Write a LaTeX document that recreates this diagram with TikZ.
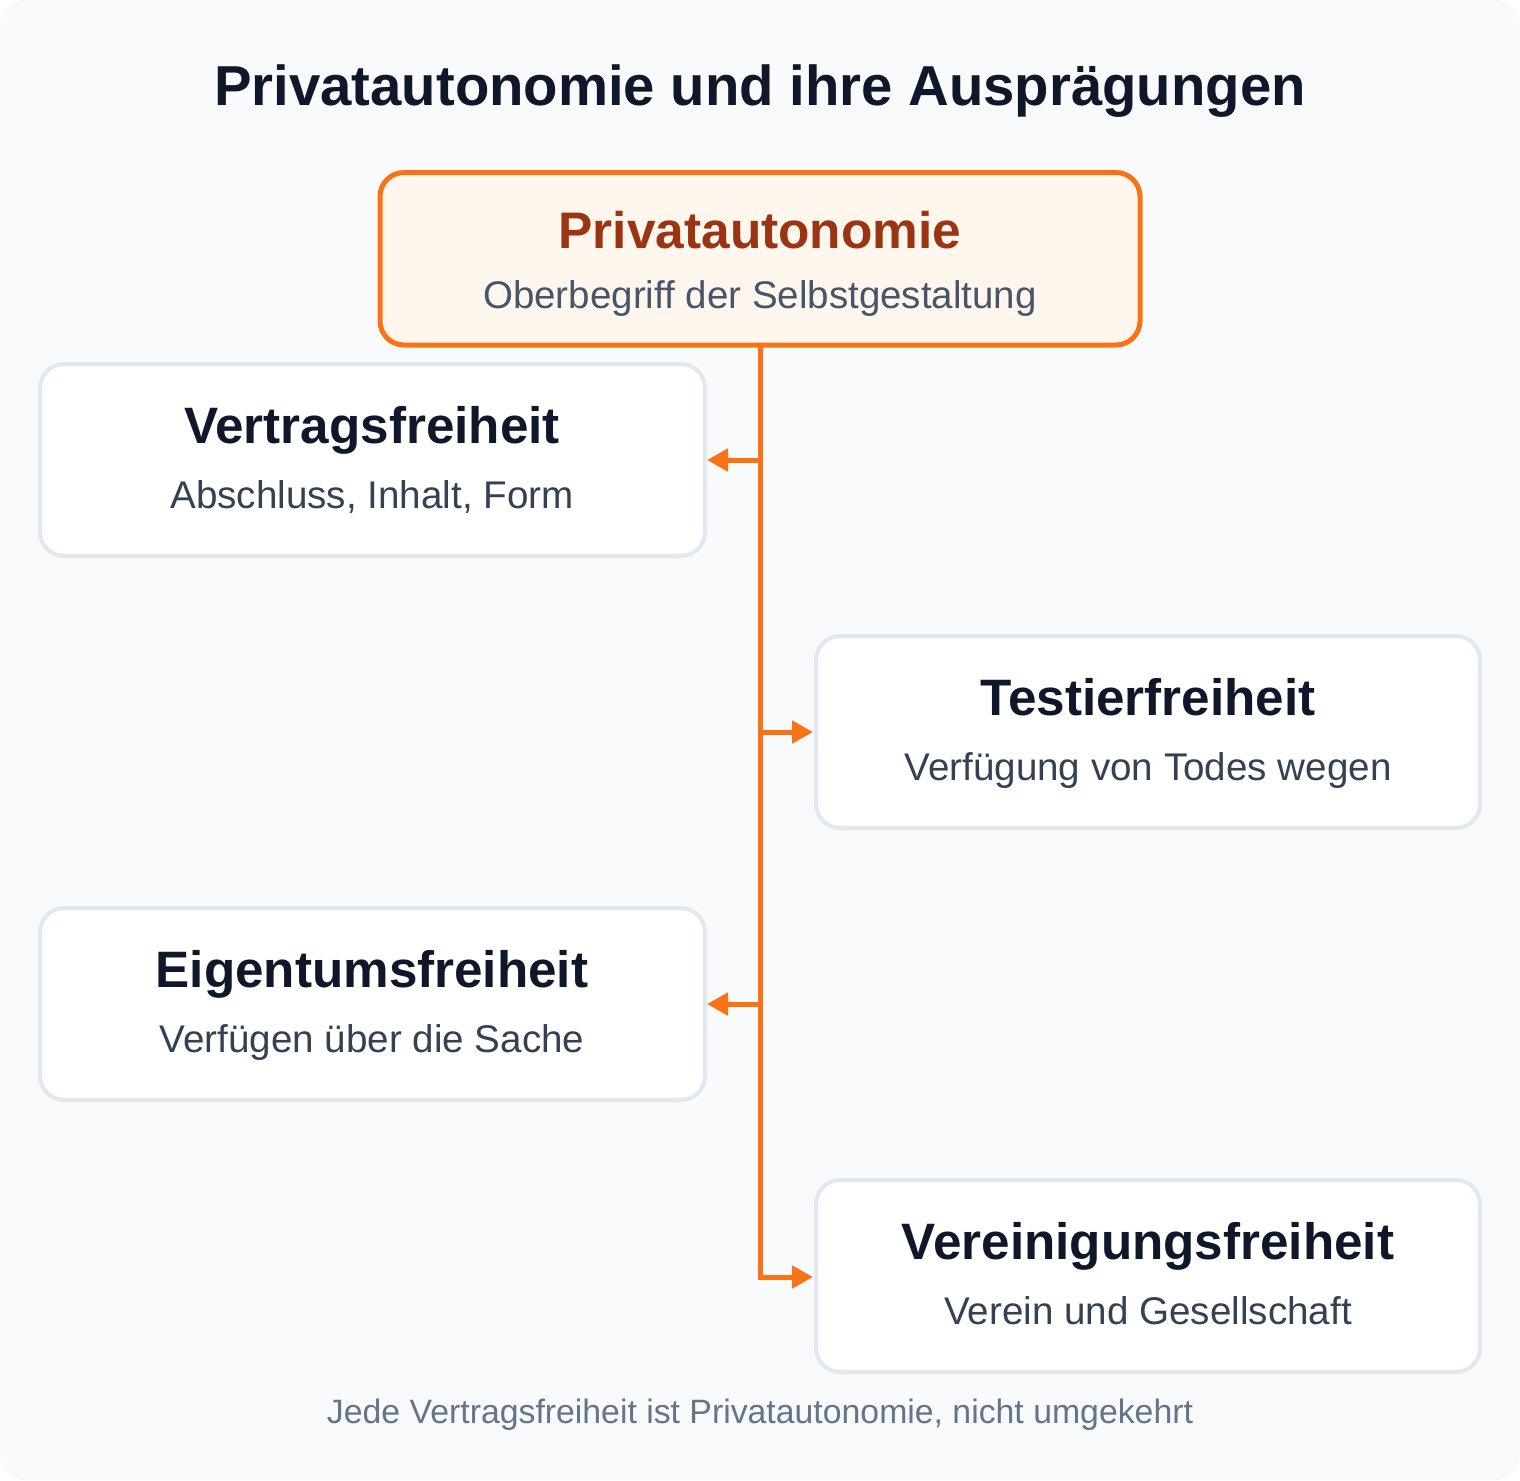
\documentclass[tikz,border=0pt]{standalone}
\usepackage{fontspec}
\setmainfont{Liberation Sans}
\usetikzlibrary{arrows.meta}
\definecolor{bgc}{HTML}{F8FAFC}
\definecolor{titlec}{HTML}{0F172A}
\definecolor{orangec}{HTML}{F97316}
\definecolor{topfill}{HTML}{FFF7ED}
\definecolor{toptext}{HTML}{9A3412}
\definecolor{subc}{HTML}{475569}
\definecolor{boxline}{HTML}{E2E8F0}
\definecolor{boxsub}{HTML}{334155}
\definecolor{footc}{HTML}{64748B}
\tikzset{
  cardbox/.style={draw=boxline, line width=2pt, fill=white, rounded corners=12pt},
  topbox/.style={draw=orangec, line width=2.5pt, fill=topfill, rounded corners=12pt},
  cardtitle/.style={anchor=base, font=\fontsize{25.6}{30}\selectfont\bfseries, text=titlec, inner sep=0pt},
  cardsub/.style={anchor=base, font=\fontsize{19.3}{23}\selectfont, text=boxsub, inner sep=0pt},
  conn/.style={draw=orangec, line width=2.5pt},
  arr/.style={draw=orangec, line width=2.5pt, -{Triangle[length=10.5pt,width=11pt]}},
}
\begin{document}
\begin{tikzpicture}[x=1pt,y=-1pt]
\useasboundingbox (0,0) rectangle (760,740);
\fill[bgc, rounded corners=12pt] (0,0) rectangle (760,740);
\node[anchor=base, font=\fontsize{28.15}{34}\selectfont\bfseries, text=titlec, inner sep=0pt] (title) at (380,52.5) {Privatautonomie und ihre Ausprägungen};

% top box
\draw[topbox] (190,86.25) rectangle (570,172.5);
\coordinate (topb) at (380,172.5);
\node[anchor=base, font=\fontsize{25.7}{30}\selectfont\bfseries, text=toptext, inner sep=0pt] (toptitle) at (380,124) {Privatautonomie};
\node[anchor=base, font=\fontsize{19.25}{23}\selectfont, text=subc, inner sep=0pt] (topsub) at (380,154) {Oberbegriff der Selbstgestaltung};

% cards
\draw[cardbox] (20,182) rectangle (352.5,278);
\coordinate (vE) at (353.5,230);
\node[cardtitle] (vt) at (186,221.5) {Vertragsfreiheit};
\node[cardsub] (vs) at (186,254) {Abschluss, Inhalt, Form};

\draw[cardbox] (408,318) rectangle (740,414);
\coordinate (tW) at (406.5,366);
\node[cardtitle] (tt) at (574,357.5) {Testierfreiheit};
\node[cardsub] (ts) at (574,390) {Verfügung von Todes wegen};

\draw[cardbox] (20,454) rectangle (352.5,550);
\coordinate (eE) at (353.5,502);
\node[cardtitle] (et) at (186,493.5) {Eigentumsfreiheit};
\node[cardsub] (es) at (186,526) {Verfügen über die Sache};

\draw[cardbox] (408,590) rectangle (740,686);
\coordinate (gW) at (406.5,638.5);
\node[cardtitle] (gt) at (574,629.5) {Vereinigungsfreiheit};
\node[cardsub] (gs) at (574,662) {Verein und Gesellschaft};

% connectors
\coordinate (j1) at (380,230);
\coordinate (j2) at (380,366);
\coordinate (j3) at (380,502);
\coordinate (j4) at (380,638.5);
\draw[conn] (topb) -- ([yshift=1.25pt]j4);
\draw[arr] ([xshift=1.25pt]j1) -- (vE);
\draw[arr] ([xshift=-1.25pt]j2) -- (tW);
\draw[arr] ([xshift=1.25pt]j3) -- (eE);
\draw[arr] ([xshift=-1.25pt]j4) -- (gW);

\node[anchor=base, font=\fontsize{16.9}{20}\selectfont, text=footc, inner sep=0pt] (foot) at (380,711.5) {Jede Vertragsfreiheit ist Privatautonomie, nicht umgekehrt};
\end{tikzpicture}
\end{document}
